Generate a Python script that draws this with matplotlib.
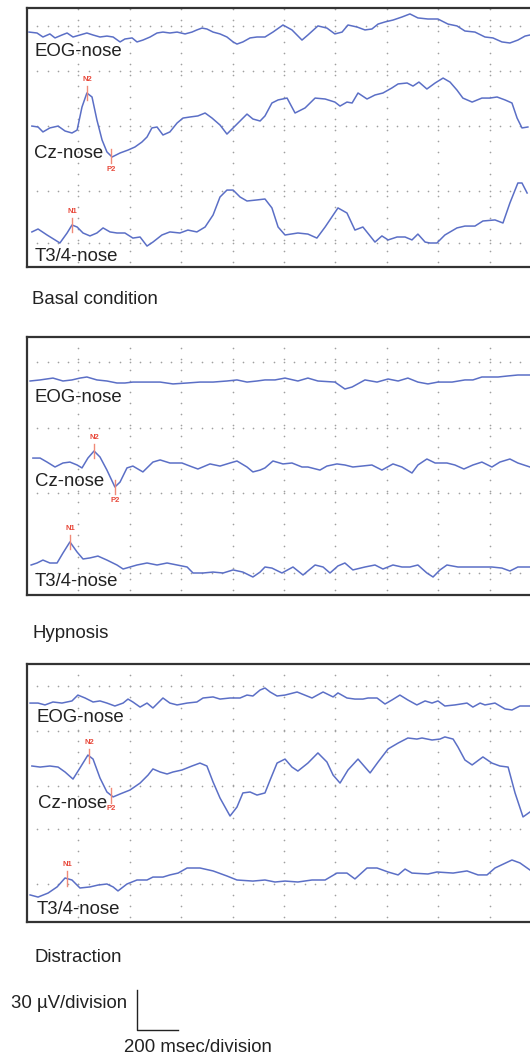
import matplotlib
matplotlib.use("Agg")
import matplotlib.pyplot as plt
import numpy as np

plt.rcParams["font.family"] = ["Liberation Sans", "DejaVu Sans"]

# time in ms from sweep start, amplitude in uV relative to channel baseline
basal_eog_t = [8, 39, 62, 89, 109, 136, 156, 179, 206, 233, 257, 284, 311, 335, 362, 381, 409, 428, 451, 479,
               506, 529, 556, 584, 615, 642, 661, 681, 700, 724, 751, 778, 802, 817, 840, 868, 895, 926, 957, 996,
               1031, 1070, 1093, 1132, 1167, 1198, 1226, 1249, 1284, 1315, 1342, 1366, 1393, 1424, 1459, 1490,
               1521, 1560, 1599, 1638, 1673, 1704, 1743, 1782, 1813, 1848, 1879, 1910, 1938, 1957]
basal_eog_uv = [2.2, 1.5, -1.5, 0.8, -2.2, 0, 1.5, -1.5, 0, 1.5, 0, -1.5, -0.8, -1.5, -5.2, -3, -2.2, -5.2, -3.8, -1.5,
                1.5, 2.2, 1.5, 2.2, 0.8, 2.2, 3.8, 5.2, 4.5, 2.2, 0.8, -1.5, -5.2, -6.8, -5.2, -2.2, -1.5, -1.5, 2.2, 7.5,
                3.8, -3.8, 0, 6.8, 5.2, 0.8, 2.2, 7.5, 6, 3.8, 4.5, 8.2, 9.8, 11.2, 13.5, 15.8,
                12.8, 12, 12, 8.2, 6.8, 3, 2.2, -1.5, -2.2, -5.2, -6, -3.8, -0.8, 0]

basal_cz_t = [19, 43, 62, 89, 121, 148, 175, 195, 214, 233, 253, 272, 292, 311, 331, 362, 393, 420, 447, 467,
              486, 506, 529, 556, 584, 607, 634, 665, 693, 720, 751, 778, 802, 829, 856, 879, 907, 926, 953, 977,
              1012, 1043, 1082, 1121, 1160, 1198, 1218, 1245, 1265, 1288, 1323, 1354, 1385, 1420, 1444, 1479,
              1502, 1525, 1556, 1588, 1619, 1646, 1673, 1696, 1732, 1770, 1801, 1829, 1860, 1887, 1907, 1926, 1949]
basal_cz_uv = [-0.8, -1.5, -5.2, -2.2, -0.8, -4.5, -6, -3.8, 13.5, 24, 21, 3.8, -11.2, -20.2, -24, -21, -18.8, -16.5, -12.8, -9,
               -2.2, -1.5, -7.5, -5.2, 1.5, 5.2, 6, 6.8, 9, 5.2, 0, -6.8, -2.2, 3, 8.2, 4.5, 3, 6.8, 16.5, 18.8,
               20.2, 9, 12.8, 20.2, 19.5, 17.2, 14.2, 17.2, 16.5, 24, 19.5, 22.5, 24, 27.8, 30.8, 31.5,
               29.2, 32.2, 27, 31.5, 35.2, 32.2, 26.2, 20.2, 17.2, 20.2, 20.2, 21, 18.8, 16.5, 5.2, -2.2, -1.5]

basal_t34_t = [19, 43, 78, 109, 128, 156, 175, 195, 218, 245, 272, 296, 323, 350, 381, 412, 440, 467, 490, 525,
               556, 595, 626, 661, 693, 724, 751, 778, 802, 829, 856, 895, 926, 953, 977, 1004, 1054, 1093, 1128,
               1160, 1210, 1245, 1276, 1307, 1354, 1381, 1405, 1440, 1471, 1498, 1521, 1549, 1568, 1595, 1626,
               1673, 1704, 1743, 1774, 1821, 1852, 1879, 1910, 1926, 1946]
basal_t34_uv = [0.8, 3, -1.5, -5.2, -7.5, 0, 6, 4.5, 0, -2.2, 0, 3.8, 0.8, 0, 0, -3.8, -3, -9.8, -6.8, -1.5,
                0.8, 0, 2.2, 0.8, 4.5, 13.5, 27, 32.2, 32.2, 27, 24, 24.8, 25.5, 18.8, 4.5, -1.5, 0, -0.8, -3.8,
                4.5, 18.8, 15, 2.2, 4.5, -6.8, -2.2, -5.2, -3, -3, -5.2, -0.8, -6.8, -7.5, -7.5, -1.5,
                3.8, 5.2, 5.2, 9, 9.8, 7.5, 22.5, 37.5, 37.5, 30]

hyp_eog_t = [12, 51, 101, 140, 175, 206, 233, 272, 311, 350, 381, 412, 467, 518, 568, 623, 673, 724, 778, 817,
             856, 895, 926, 965, 1004, 1054, 1093, 1132, 1198, 1237, 1265, 1315, 1362, 1405, 1444, 1482, 1521,
             1560, 1599, 1654, 1704, 1735, 1770, 1833, 1872, 1910, 1957]
hyp_eog_uv = [0, 0.8, 2.2, 0, 0.8, 2.2, 3, 0.8, 0, -1.5, -1.5, -0.8, -0.8, -0.8, -2.2, -1.5, -0.8, -0.8, 0, 0.8,
              -0.8, 0, 0.8, 0.8, 2.2, 0, 2.2, 0, -0.8, -6, -4.5, 0.8, -0.8, 1.5, 0, 2.2, -0.8,
              -2.2, -0.8, -0.8, 0.8, 0.8, 3, 3, 3.8, 4.5, 4.5]

hyp_cz_t = [23, 51, 78, 109, 140, 167, 195, 214, 237, 261, 284, 311, 342, 362, 389, 412, 451, 490, 518, 556,
            603, 634, 665, 712, 751, 790, 817, 856, 879, 907, 926, 957, 996, 1031, 1070, 1093, 1140, 1167, 1206,
            1237, 1268, 1303, 1342, 1381, 1424, 1459, 1498, 1521, 1556, 1588, 1634, 1665, 1700, 1735, 1770,
            1809, 1840, 1879, 1910, 1957]
hyp_cz_uv = [5.2, 5.2, 2.2, -1.5, 1.5, 2.2, 0, -2.2, 5.2, 10.5, 6, -3.8, -16.5, -12.8, -2.2, -0.8, -5.2, 2.2, 3.8, 1.5,
             1.5, -0.8, -3, 0.8, -0.8, 1.5, 3, -1.5, -5.2, -3.8, -2.2, 3, 0.8, 1.5, -1.5, -1.5, -3.8, -0.8, 0.8,
             0, -1.5, -0.8, 0, -3.8, 0.8, -1.5, -6, 0, 4.5, 1.5, 1.5, 0, -3, 0, 2.2,
             -1.5, 2.2, 4.5, 1.5, -1.5]

hyp_t34_t = [16, 39, 62, 89, 117, 140, 167, 195, 218, 245, 276, 311, 350, 374, 401, 428, 467, 506, 545, 584,
             623, 646, 685, 724, 763, 802, 840, 879, 907, 926, 953, 992, 1035, 1074, 1121, 1152, 1179, 1210,
             1237, 1268, 1315, 1354, 1385, 1424, 1459, 1490, 1521, 1556, 1580, 1607, 1634, 1677, 1732, 1770,
             1809, 1848, 1879, 1910, 1957]
hyp_t34_uv = [1.5, 3, 5.2, 3, 3, 10.5, 18.8, 11.2, 6, 6.8, 8.2, 5.2, 1.5, -1.5, 0, 1.5, 3, 1.5, 3, 1.5,
              0, -4.5, -4.5, -3.8, -4.5, -2.2, -3.8, -7.5, -3.8, 0, -0.8, -4.5, 0, -6, 1.5, 0, -4.5, 0.8,
              3, -2.2, 0, 1.5, -1.5, 1.5, 0, 0, 1.5, -4.5, -7.5, -2.2, 1.5, 0, 0, 0,
              0, -0.8, -3, 0, 0]

dis_eog_t = [12, 43, 70, 101, 136, 175, 198, 226, 257, 284, 311, 342, 374, 393, 412, 440, 467, 490, 529, 556,
             584, 623, 661, 685, 724, 751, 790, 829, 856, 879, 907, 926, 946, 973, 1004, 1051, 1109, 1152, 1191,
             1210, 1245, 1276, 1307, 1327, 1362, 1393, 1420, 1451, 1482, 1517, 1549, 1576, 1599, 1626, 1665,
             1712, 1735, 1763, 1782, 1821, 1860, 1887, 1918, 1957]
dis_eog_uv = [-0.8, -0.8, -2.2, 0, -0.8, 0.8, 5.2, 3, 0, 0.8, -0.8, -3, -0.8, 2.2, 0, -3.8, -0.8, -4.5, 3, -0.8,
              -2.2, -0.8, 0, 3, 3.8, 2.2, 3, 3, 5.2, 4.5, 9, 10.5, 7.5, 4.5, 5.2, 7.5, 3, 7.5, 3.8,
              6.8, 3, 2.2, 2.2, 3, 3, -1.5, 1.5, 5.2, 1.5, -2.2, 0.8, -0.8, 0.8, -3, -2.2,
              -0.8, -3.8, -0.8, -2.2, -0.8, -5.2, -6, -3, -3]

dis_cz_t = [19, 51, 89, 121, 148, 179, 206, 237, 257, 284, 311, 335, 362, 401, 440, 471, 490, 518, 545, 568,
            603, 642, 673, 700, 724, 751, 790, 817, 840, 868, 895, 926, 946, 973, 1004, 1031, 1054, 1093, 1132,
            1167, 1191, 1218, 1249, 1288, 1315, 1335, 1366, 1405, 1444, 1482, 1517, 1537, 1576, 1607, 1626,
            1658, 1677, 1704, 1732, 1774, 1809, 1840, 1872, 1899, 1930, 1957]
dis_cz_uv = [3, 2.2, 3, 2.2, -1.5, -6.8, 1.5, 11.2, 8.2, -6, -16.5, -20.2, -18, -15, -9.8, -3.8, 0.8, -1.5, -3, -1.5,
             0, 3, 5.2, 3, -9, -21, -34.5, -27.8, -17.2, -16.5, -18.8, -17.2, -7.5, 5.2, 8.2, 2.2, -0.8, 5.2, 12.8,
             6, -3.8, -9.8, 0, 8.2, 2.2, -2.2, 6, 15.8, 20.2, 24, 23.2, 24, 22.5, 23.2, 24.8,
             23.2, 17.2, 7.5, 3.8, 9.8, 5.2, 3, 2.2, -17.2, -35.2, -31.5]

dis_t34_t = [12, 43, 82, 117, 148, 175, 206, 245, 276, 311, 335, 354, 389, 428, 467, 490, 529, 556, 588, 623,
             673, 724, 778, 817, 879, 926, 965, 1004, 1054, 1109, 1160, 1206, 1245, 1276, 1323, 1362, 1405,
             1444, 1471, 1498, 1560, 1595, 1658, 1712, 1755, 1790, 1821, 1887, 1918, 1957]
dis_t34_uv = [-11.2, -12.8, -9.8, -5.2, 1.5, 0, -6, -5.2, -3.8, -3, -5.2, -8.2, -3, 0, 0, 2.2, 2.2, 3.8, 5.2, 9,
              9, 6.8, 3, 0, -0.8, 0, -1.5, -0.8, -1.5, 0, 0, 5.2, 5.2, 0.8, 9, 9, 6,
              3.8, 8.2, 5.2, 4.5, 6, 5.2, 6.8, 3.8, 3.8, 9, 15, 12.8, 7.5]

channel_names = ["EOG-nose", "Cz-nose", "T3/4-nose"]
condition_names = ["Basal condition", "Hypnosis", "Distraction"]

# peak latencies (ms): N2 / P2 on Cz, N1 on T3/4
n2_latency = [233, 261, 241]
p2_latency = [327, 342, 327]
n1_latency = [175, 167, 156]

traces = [
    [(basal_eog_t, basal_eog_uv), (basal_cz_t, basal_cz_uv), (basal_t34_t, basal_t34_uv)],
    [(hyp_eog_t, hyp_eog_uv), (hyp_cz_t, hyp_cz_uv), (hyp_t34_t, hyp_t34_uv)],
    [(dis_eog_t, dis_eog_uv), (dis_cz_t, dis_cz_uv), (dis_t34_t, dis_t34_uv)],
]

# layout (pixels of a 530x1058 canvas)
W, H = 530, 1058
panel_tops = [8, 337, 664]
panel_bottoms = [267, 595, 922]
panel_left, panel_right = 27, 541
px_uv = 0.75  # uV per pixel
baselines = [[35, 125, 233], [381, 465, 567], [702, 770, 880]]
row_lines = [[26, 71, 126, 191, 243], [362, 428, 493, 573], [686, 731, 786, 829, 884]]
label_pos = [[(35, 51), (34, 153), (35, 256)], [(35, 398), (35, 482), (35, 581)], [(36, 718), (38, 803), (37, 910)]]
cond_pos = [(32, 300), (32, 633), (35, 957)]

trace_col = "#5b6fc6"
red = "#e8483a"
red_tick = "#f08a78"
dot_col = "#a0a0a0"
fs = 13.4

fig = plt.figure(figsize=(W / 100, H / 100), dpi=100)

for p in range(3):
    top, bot = panel_tops[p], panel_bottoms[p]
    ax = fig.add_axes([panel_left / W, 1 - bot / H, (panel_right - panel_left) / W, (bot - top) / H])
    ymax = (bot - top) * px_uv
    ax.set_xlim(0, 2000)
    ax.set_ylim(0, ymax)
    ax.set_xticks([])
    ax.set_yticks([])
    for s in ax.spines.values():
        s.set_color("#333333")
        s.set_linewidth(1.6)

    # dotted grid
    for r in row_lines[p]:
        xs = np.arange(40, 2000, 40.0)
        ax.plot(xs, np.full(len(xs), (bot - r) * px_uv), ls="none", marker="o", ms=1.2, mew=0, color=dot_col)
    ys = np.arange(4, ymax, 8.25)
    for gx in range(200, 2000, 200):
        ax.plot(np.full(len(ys), gx), ys, ls="none", marker="o", ms=1.2, mew=0, color=dot_col)

    for c in range(3):
        t, uv = traces[p][c]
        off = (bot - baselines[p][c]) * px_uv
        ax.plot(t, np.array(uv) + off, color=trace_col, lw=1.1, solid_joinstyle="round")
        lx, ly = label_pos[p][c]
        ax.text((lx - panel_left) / (panel_right - panel_left), (bot - ly) / (bot - top), channel_names[c],
                transform=ax.transAxes, fontsize=fs, color="#222222", va="center", ha="left")

    # peak markers
    marks = [("N2", n2_latency[p], 1, 1), ("P2", p2_latency[p], 1, -1), ("N1", n1_latency[p], 2, 1)]
    for name, lat, c, sgn in marks:
        t, uv = traces[p][c]
        off = (bot - baselines[p][c]) * px_uv
        v = np.interp(lat, t, uv) + off
        ax.plot([lat, lat], [v - 5.5, v + 5.5], color=red_tick, lw=1.0)
        ax.annotate(name, (lat, v + 5.5 * sgn), xytext=(0, 2 * sgn), textcoords="offset points",
                    ha="center", va="bottom" if sgn > 0 else "top", fontsize=5.5,
                    fontweight="bold", color=red)

    fig.text(cond_pos[p][0] / W, 1 - cond_pos[p][1] / H, condition_names[p], fontsize=fs,
             color="#222222", va="center", ha="left")

# scale bar
sb = fig.add_axes([0, 0, 1, 1], facecolor="none")
sb.set_xlim(0, W)
sb.set_ylim(H, 0)
sb.axis("off")
sb.plot([137, 137, 178], [990, 1030, 1030], color="#222222", lw=1.0)
sb.text(127, 1003, "30 µV/division", fontsize=fs, color="#222222", ha="right", va="center")
sb.text(124, 1048, "200 msec/division", fontsize=fs, color="#222222", ha="left", va="center")

plt.savefig("out.png", dpi=100)
